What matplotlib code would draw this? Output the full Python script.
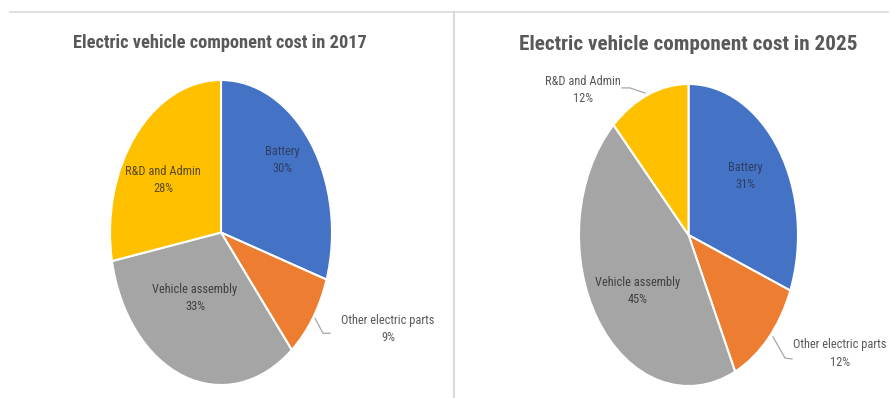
import matplotlib
matplotlib.use("Agg")
import matplotlib.pyplot as plt
from matplotlib.lines import Line2D
from matplotlib import font_manager

# ---- data ----
categories = ["Battery", "Other electric parts", "Vehicle assembly", "R&D and Admin"]
values_2017 = [30, 9, 33, 28]
values_2025 = [31, 12, 45, 12]
title_2017 = "Electric vehicle component cost in 2017"
title_2025 = "Electric vehicle component cost in 2025"
colors = ["#4472C4", "#ED7D31", "#A5A5A5", "#FFC000"]

available = {f.name for f in font_manager.fontManager.ttflist}
family = "DejaVu Sans"
for cand in ["Liberation Sans Narrow", "Roboto Condensed", "Open Sans Condensed", "Lato", "Open Sans"]:
    if cand in available:
        family = cand
        break
plt.rcParams['font.family'] = [family, 'DejaVu Sans']

W, H = 890, 398
fig = plt.figure(figsize=(W / 100, H / 100), dpi=100)
fig.patch.set_facecolor("white")
renderer = fig.canvas.get_renderer()


def fit_width(t, target_px):
    w = t.get_window_extent(renderer=renderer).width
    t.set_fontsize(t.get_fontsize() * target_px / w)


def px_axes(x0, y0, x1, y1):
    return fig.add_axes([x0 / W, 1 - y1 / H, (x1 - x0) / W, (y1 - y0) / H])


# panel border lines
fig.add_artist(Line2D([10 / W, 888 / W], [1 - 12 / H, 1 - 12 / H], color="#d9d9d9", lw=1.2))
fig.add_artist(Line2D([454 / W, 454 / W], [1 - 12 / H, 0], color="#d9d9d9", lw=1.5))

# label font size: fit "Other electric parts" to ~93 px as in the reference
probe = fig.text(0, 0, "Other electric parts", fontsize=10)
fit_width(probe, 93)
label_fs = probe.get_fontsize()
probe.remove()

layout_2017 = {
    "pos": [(0.55, 0.477), (1.505, -0.632), (-0.234, -0.431), (-0.52, 0.345)],
    "leader": {1: [(0.847, -0.5625), (0.919, -0.661), (0.982, -0.661)]},
}
layout_2025 = {
    "pos": [(0.516, 0.391), (1.385, -0.785), (-0.461, -0.371), (-0.963, 0.960)],
    "leader": {1: [(0.772, -0.675), (0.881, -0.815), (0.945, -0.821)],
               3: [(-0.607, 0.974), (-0.534, 0.974), (-0.397, 0.940)]},
}
inside_color = ["#2E3F63", "#404040", "#404040", "#5A4A10"]
outside_color = "#595959"


def draw_pie(ax, values, layout):
    ax.pie(values, colors=colors, startangle=90, counterclock=False, radius=1,
           wedgeprops=dict(edgecolor="white", linewidth=1.5))
    ax.set_aspect("auto")
    ax.set_xlim(-1, 1)
    ax.set_ylim(-1, 1)
    ax.axis("off")
    for i, (cat, v) in enumerate(zip(categories, values)):
        x, y = layout["pos"][i]
        outside = i in layout["leader"]
        c = outside_color if outside else inside_color[i]
        ax.text(x, y, f"{cat}\n{v}%", ha="center", va="center", fontsize=label_fs,
                color=c, linespacing=1.45, clip_on=False)
        if outside:
            xs, ys = zip(*layout["leader"][i])
            ax.plot(xs, ys, color="#a6a6a6", lw=0.9, clip_on=False)


ax1 = px_axes(110, 80, 332, 385)
draw_pie(ax1, values_2017, layout_2017)
ax2 = px_axes(579, 84, 798, 386)
draw_pie(ax2, values_2025, layout_2025)

t1 = fig.text(220 / W, 1 - 43 / H, title_2017, ha="center", va="center",
              fontsize=14, fontweight="bold", color="#595959")
fit_width(t1, 295)
t2 = fig.text(688 / W, 1 - 45 / H, title_2025, ha="center", va="center",
              fontsize=16, fontweight="bold", color="#595959")
fit_width(t2, 337)

fig.savefig("out.png", dpi=100, facecolor="white")
